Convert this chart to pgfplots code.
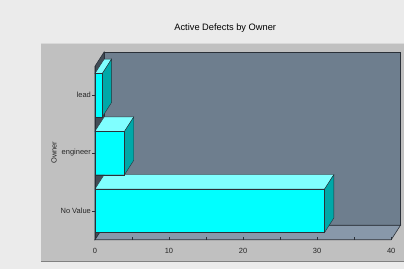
\documentclass[border=0pt]{standalone}
\usepackage{pgfplots}
\pgfplotsset{compat=1.18}
\usepackage{fontspec}
\setmainfont{Liberation Sans}
\definecolor{bgc}{HTML}{EBEBEB}
\definecolor{panel}{HTML}{C0C0C0}
\definecolor{panelline}{HTML}{808080}
\definecolor{wall}{HTML}{6E7E8E}
\definecolor{floorc}{HTML}{8898AA}
\definecolor{lwall}{HTML}{434C56}
\definecolor{barfront}{HTML}{00FFFF}
\definecolor{bartop}{HTML}{80FFFF}
\definecolor{barside}{HTML}{00A8A8}
\definecolor{edgec}{HTML}{2A3038}
\definecolor{lab}{HTML}{262626}
\begin{document}
\begin{tikzpicture}[x=1pt,y=1pt]
\fill[bgc] (0,0) rectangle (404,269);
\fill[panel] (41,7) rectangle (404,226);
\draw[panelline,line width=1pt] (41,7.5) -- (404,7.5);
\draw[white!85!black,line width=0.6pt] (41,225.7) -- (404,225.7);
\node[font=\fontsize{9.3}{11}\selectfont, text=black] at (225.5,241) {Active Defects by Owner};
\begin{axis}[
  at={(95pt,29pt)}, anchor=south west,
  scale only axis, width=306pt, height=188pt,
  xmin=0, xmax=41.25, ymin=-0.5, ymax=2.75,
  axis line style={draw=none},
  axis on top,
  tick pos=left,
  xtick={0,10,20,30,40},
  minor xtick={5,15,25,35},
  xtick align=inside,
  ytick align=outside,
  major tick length=3pt, minor tick length=2.5pt,
  tick style={edgec, line width=0.5pt},
  ytick={0,1,2},
  yticklabels={No Value, engineer, lead},
  /pgf/number format/assume math mode=true,
  ticklabel style={font=\fontsize{7.5}{9}\selectfont, text=lab},
  xticklabel style={yshift=-5pt},
  yticklabel style={xshift=2.5pt},
  ylabel={Owner},
  ylabel style={at={(rel axis cs:-0.134,0.463)}, anchor=center, font=\fontsize{7.5}{9}\selectfont, text=lab},
  clip=false,
]
% back wall
\addplot[fill=wall, draw=edgec, line width=0.6pt] coordinates {(1.25,-0.25) (41.25,-0.25) (41.25,2.75) (1.25,2.75)} -- cycle;
% floor
\addplot[fill=floorc, draw=edgec, line width=0.6pt] coordinates {(0,-0.5) (40,-0.5) (41.25,-0.25) (1.25,-0.25)} -- cycle;
% left wall
\addplot[fill=lwall, draw=edgec, line width=0.6pt] coordinates {(0,-0.5) (1.25,-0.25) (1.25,2.75) (0,2.5)} -- cycle;
% bars: No Value = 31
\addplot[fill=bartop, draw=edgec, line width=0.4pt] coordinates {(0,0.375) (31,0.375) (32.25,0.625) (1.25,0.625)} -- cycle;
\addplot[fill=barside, draw=edgec, line width=0.4pt] coordinates {(31,-0.375) (32.25,-0.125) (32.25,0.625) (31,0.375)} -- cycle;
% engineer = 4
\addplot[fill=bartop, draw=edgec, line width=0.4pt] coordinates {(0,1.375) (4,1.375) (5.25,1.625) (1.25,1.625)} -- cycle;
\addplot[fill=barside, draw=edgec, line width=0.4pt] coordinates {(4,0.625) (5.25,0.875) (5.25,1.625) (4,1.375)} -- cycle;
% lead = 1
\addplot[fill=bartop, draw=edgec, line width=0.4pt] coordinates {(0,2.375) (1,2.375) (2.25,2.625) (1.25,2.625)} -- cycle;
\addplot[fill=barside, draw=edgec, line width=0.4pt] coordinates {(1,1.625) (2.25,1.875) (2.25,2.625) (1,2.375)} -- cycle;
% fronts
\addplot[xbar, bar width=0.75, bar shift=0pt, fill=barfront, draw=edgec, line width=0.4pt] coordinates {(31,0) (4,1) (1,2)};
% front axis line
\addplot[edgec, line width=0.6pt] coordinates {(0,-0.5) (0,2.5)};
\end{axis}
\end{tikzpicture}
\end{document}
